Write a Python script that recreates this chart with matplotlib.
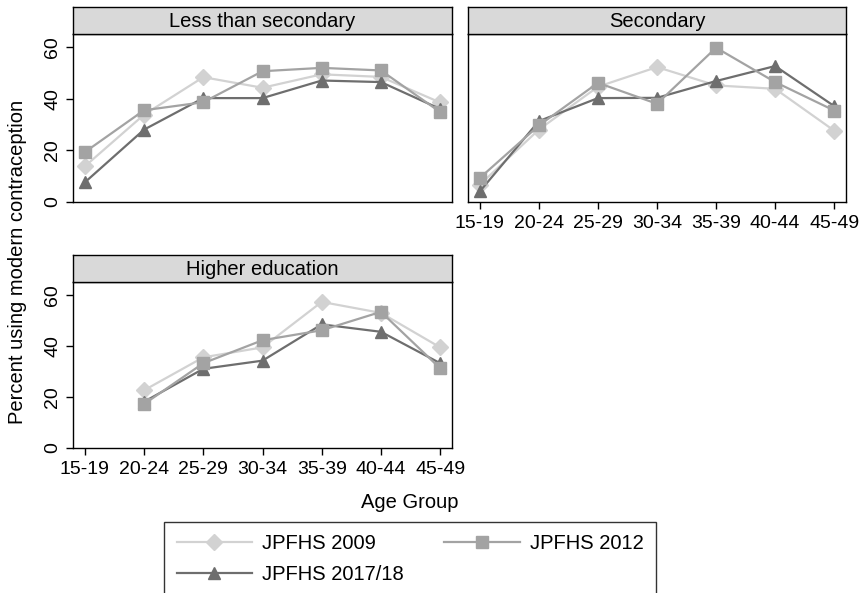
import numpy as np
import matplotlib
matplotlib.use("Agg")
import matplotlib.pyplot as plt

plt.rcParams['font.family'] = ['Liberation Sans', 'DejaVu Sans']

ages = ['15-19', '20-24', '25-29', '30-34', '35-39', '40-44', '45-49']
panels = ['Less than secondary', 'Secondary', 'Higher education']
surveys = ['JPFHS 2009', 'JPFHS 2012', 'JPFHS 2017/18']

# percent using modern contraception, by panel and survey
less_2009 = [13.8, 33.8, 48.3, 44.2, 49.4, 48.4, 38.5]
less_2012 = [19.3, 35.5, 38.6, 50.6, 51.9, 50.9, 34.8]
less_2017 = [7.6, 28.0, 40.2, 40.2, 47.0, 46.4, 36.0]

sec_2009 = [6.7, 28.0, 44.6, 52.2, 45.1, 43.8, 27.6]
sec_2012 = [9.3, 29.6, 46.1, 38.0, 59.7, 46.4, 35.4]
sec_2017 = [4.1, 31.3, 40.2, 40.3, 46.8, 52.6, 37.1]

high_2009 = [np.nan, 22.6, 35.5, 39.4, 57.2, 52.9, 39.4]
high_2012 = [np.nan, 17.2, 33.2, 42.2, 46.1, 53.3, 31.2]
high_2017 = [np.nan, 18.1, 31.0, 34.2, 48.4, 45.5, 33.2]

data = [
    [less_2009, less_2012, less_2017],
    [sec_2009, sec_2012, sec_2017],
    [high_2009, high_2012, high_2017],
]

colors = ['#d2d2d2', '#a3a3a3', '#6e6e6e']
markers = ['D', 's', '^']
msizes = [8.5, 8, 9]

W, H = 864, 593
fig = plt.figure(figsize=(W / 100, H / 100), dpi=100)

# panel boxes in pixels: left, top, right, bottom
boxes = [(73, 34, 452, 202), (468, 34, 846, 202), (73, 282, 452, 448)]
strip_h = 27
fs = 14.5
tfs = 14

x = np.arange(len(ages))
axes = []
for i, (l, t, r, b) in enumerate(boxes):
    ax = fig.add_axes([l / W, 1 - b / H, (r - l) / W, (b - t) / H])
    for j in range(3):
        ax.plot(x, data[i][j], color=colors[j], marker=markers[j],
                ms=msizes[j], lw=1.6, label=surveys[j], zorder=3 + j % 2)
    ax.set_xlim(-0.2, 6.2)
    ax.set_ylim(0, 65)
    ax.set_yticks([0, 20, 40, 60])
    for s in ax.spines.values():
        s.set_linewidth(1.0)
    ax.tick_params(axis='y', labelsize=tfs, length=5, width=1, labelrotation=90)
    for lab in ax.get_yticklabels():
        lab.set_va('center')
    ax.set_xticks(x)
    ax.set_xticklabels(ages, fontsize=tfs)
    ax.tick_params(axis='x', length=5, width=1, pad=4)
    if i == 0:
        ax.tick_params(axis='x', bottom=False, labelbottom=False)
    if i == 1:
        ax.tick_params(axis='y', left=False, labelleft=False)

    strip = fig.add_axes([l / W, 1 - t / H, (r - l) / W, strip_h / H])
    strip.set_facecolor('#d9d9d9')
    strip.set_xticks([])
    strip.set_yticks([])
    for s in strip.spines.values():
        s.set_linewidth(1.0)
    strip.text(0.5, 0.48, panels[i], ha='center', va='center', fontsize=fs,
               transform=strip.transAxes)
    axes.append(ax)

fig.text(18 / W, 1 - 262 / H, 'Percent using modern contraception',
         rotation=90, ha='center', va='center', fontsize=fs)
fig.text(410 / W, 1 - 502 / H, 'Age Group', ha='center', va='center', fontsize=fs)

# legend filled row by row: 2009, 2012 / 2017/18
h, lb = axes[0].get_legend_handles_labels()
order = [0, 2, 1]
leg = fig.legend([h[k] for k in order], [lb[k] for k in order],
                 loc='upper center', ncol=2,
                 bbox_to_anchor=(410 / W, 1 - 522 / H), fontsize=fs,
                 frameon=True, fancybox=False, edgecolor='black',
                 handlelength=3.75, columnspacing=2.0, handletextpad=0.5,
                 borderpad=0.6, labelspacing=0.6, borderaxespad=0)
leg.get_frame().set_linewidth(1.0)

fig.savefig('out.png', dpi=100)
